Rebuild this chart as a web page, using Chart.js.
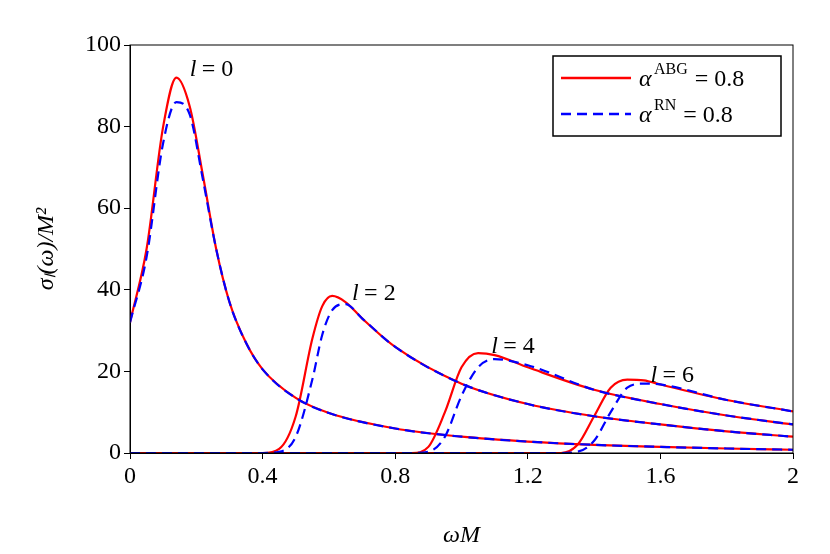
<!DOCTYPE html><html><head><script src="https://cdn.jsdelivr.net/npm/chart.js"></script>
<style>body{margin:0;background:#fff}#w{width:830px;height:554px}</style></head><body><div id="w"><canvas id="c"></canvas></div>
<script>
const xL0=[0,0.05,0.1,0.14,0.18,0.22,0.26,0.3,0.35,0.4,0.5,0.6,0.8,1.0,1.2,1.4,1.6,1.8,2.0];
const abgL0=[32,50,80,92,85,68,50,37,27,20.5,13.5,9.8,6,4,2.8,2,1.5,1.1,0.8];
const rnL0=[32,48,76,86,83,67,50,37,27,20.5,13.5,9.8,6,4,2.8,2,1.5,1.1,0.8];
const xL2=[0,0.4,0.45,0.5,0.55,0.58,0.61,0.65,0.7,0.8,1.0,1.2,1.4,1.6,1.8,2.0];
const abgL2=[0,0,1,9,28,36,38.5,37,33,26,17,12,9,7,5.3,4];
const rnL2=[0,0,0.3,4,18,29,35,36.5,33,26,17,12,9,7,5.3,4];
const xL4=[0,0.85,0.9,0.95,1.0,1.05,1.1,1.2,1.4,1.6,1.8,2.0];
const abgL4=[0,0,1.5,10,21,24.5,24,21,15.5,12,9.2,7];
const rnL4=[0,0,0.3,4,14,21,23,21.5,15.5,12,9.2,7];
const xL6=[0,1.3,1.35,1.4,1.45,1.5,1.55,1.6,1.8,2.0];
const abgL6=[0,0,2,9,16,18,17.8,16.8,13,10.2];
const rnL6=[0,0,0.3,3,10,16,17,16.8,13,10.2];
const xTicks=[0,0.4,0.8,1.2,1.6,2];
const curveLabels=[["l = 0",0.18,94],["l = 2",0.67,39],["l = 4",1.09,26],["l = 6",1.57,19]];
const pts=(xs,ys)=>xs.map((x,i)=>({x,y:ys[i]}));
const mk=(xs,ys,red)=>({data:pts(xs,ys),borderColor:red?'#ff0000':'#0000ff',borderWidth:2.2,borderDash:red?[]:[10,6],pointRadius:0,cubicInterpolationMode:'monotone',fill:false});
const F='"Liberation Serif", serif';
const ds=[mk(xL0,rnL0,0),mk(xL2,rnL2,0),mk(xL4,rnL4,0),mk(xL6,rnL6,0),mk(xL0,abgL0,1),mk(xL2,abgL2,1),mk(xL4,abgL4,1),mk(xL6,abgL6,1)];
const deco={id:'deco',afterDraw(ch){const c=ch.ctx,a=ch.chartArea,xs=ch.scales.x,ys=ch.scales.y;c.save();
c.strokeStyle='#000';c.lineWidth=1;c.strokeRect(a.left,a.top,a.right-a.left,a.bottom-a.top);
c.fillStyle='#000';c.textBaseline='middle';
for(const [t,x,y] of curveLabels){const px=xs.getPixelForValue(x),py=ys.getPixelForValue(y);
c.font='italic 24px '+F;c.fillText('l',px,py);c.font='24px '+F;c.fillText(t.slice(1),px+6,py);}
const L=553,T=56,W=228,H=80;c.fillStyle='#fff';c.fillRect(L,T,W,H);c.lineWidth=1.5;c.strokeRect(L,T,W,H);
[['ABG',0],['RN',1]].forEach(([s,i])=>{const y=T+22+i*36;c.beginPath();c.strokeStyle=i?'#0000ff':'#ff0000';c.lineWidth=2.5;c.setLineDash(i?[10,6]:[]);c.moveTo(L+8,y);c.lineTo(L+78,y);c.stroke();c.setLineDash([]);
c.fillStyle='#000';c.font='italic 24px '+F;c.fillText('α',L+86,y+2);c.font='16px '+F;c.fillText(s,L+101,y-8);const w=c.measureText(s).width;c.font='24px '+F;c.fillText('= 0.8',L+108+w,y+2);});
c.restore();}};
new Chart(document.getElementById('c'),{type:'line',data:{datasets:ds},plugins:[deco],
options:{responsive:true,maintainAspectRatio:false,animation:false,layout:{padding:{top:45,right:37,left:28,bottom:0}},
plugins:{legend:{display:false},tooltip:{enabled:false}},
scales:{x:{type:'linear',min:0,max:2,afterBuildTicks:s=>{s.ticks=xTicks.map(v=>({value:v}))},afterFit:s=>{s.height=101},
grid:{drawOnChartArea:false,color:'#000',tickLength:6},border:{color:'#000'},
ticks:{color:'#000',font:{family:F,size:24},callback:v=>String(v)},title:{display:true,text:'ωM',color:'#000',font:{family:F,size:24,style:'italic'},padding:{top:14}}},
y:{min:0,max:100,afterFit:s=>{s.width=102},grid:{drawOnChartArea:false,color:'#000',tickLength:6},border:{color:'#000'},
ticks:{stepSize:20,color:'#000',font:{family:F,size:24}},title:{display:true,text:'σₗ(ω)/M²',color:'#000',font:{family:F,size:24,style:'italic'},padding:{bottom:4}}}}}});
</script></body></html>
